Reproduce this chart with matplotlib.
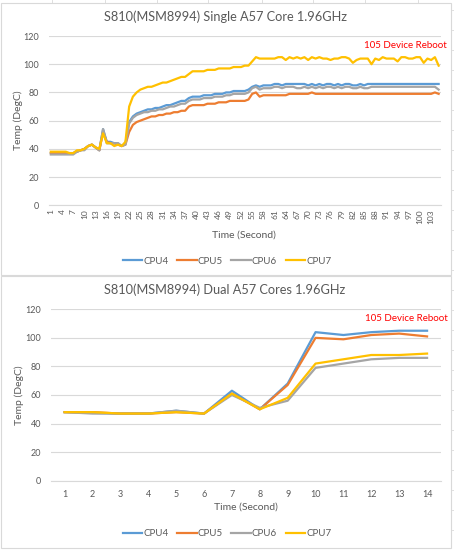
import numpy as np
import matplotlib.pyplot as plt
from matplotlib.patches import Rectangle
from matplotlib.lines import Line2D

plt.rcParams['font.family'] = ['Lato', 'DejaVu Sans']

# ---- single core run (105 samples) ----
cpu4_single = [37, 37, 37, 37, 37, 37, 37, 38, 39, 40, 42, 43, 41, 39, 54, 45, 45, 44, 44, 42,
               44, 59, 63, 65, 66, 67, 68, 68, 69, 69, 70, 71, 71, 72, 73, 74, 74, 76, 77, 77,
               77, 78, 78, 78, 79, 79, 79, 80, 80, 81, 81, 81, 81, 82, 84, 85, 84, 85, 85, 85,
               86, 86, 85, 86, 86, 86, 86, 86, 86, 85, 86, 85, 86, 85, 86, 86, 85, 86, 85, 86,
               86, 85, 85, 86, 85, 86, 86, 86, 86, 86, 86, 86, 86, 86, 86, 86, 86, 86, 86, 86,
               86, 86, 86, 86, 86]
cpu5_single = [37, 37, 37, 37, 37, 37, 37, 38, 39, 40, 42, 43, 41, 39, 52, 45, 44, 44, 43, 42,
               43, 52, 57, 59, 60, 61, 62, 63, 63, 64, 64, 65, 65, 66, 66, 67, 67, 70, 71, 71,
               71, 71, 72, 72, 72, 73, 73, 73, 74, 74, 74, 74, 74, 75, 79, 80, 77, 78, 78, 78,
               78, 78, 78, 78, 79, 79, 79, 79, 79, 79, 80, 79, 79, 79, 79, 79, 79, 79, 79, 79,
               79, 79, 79, 79, 79, 79, 79, 79, 79, 79, 79, 79, 79, 79, 79, 79, 79, 79, 79, 79,
               79, 79, 79, 80, 79]
cpu6_single = [36, 36, 36, 36, 36, 36, 36, 38, 39, 39, 42, 43, 41, 39, 54, 44, 44, 44, 44, 42,
               43, 58, 62, 64, 65, 66, 66, 67, 67, 68, 68, 69, 70, 70, 71, 72, 72, 74, 75, 75,
               75, 76, 76, 76, 77, 77, 77, 78, 78, 79, 79, 79, 79, 80, 83, 84, 82, 83, 83, 83,
               84, 84, 83, 84, 84, 84, 83, 83, 84, 83, 84, 83, 84, 83, 84, 84, 83, 84, 83, 84,
               84, 83, 83, 84, 83, 83, 84, 84, 84, 84, 84, 84, 84, 84, 84, 84, 84, 84, 84, 84,
               84, 84, 84, 84, 82]
cpu7_single = [38, 38, 38, 38, 38, 37, 37, 39, 39, 40, 42, 43, 41, 40, 51, 44, 44, 42, 43, 42,
               45, 70, 77, 80, 82, 83, 84, 84, 85, 86, 87, 87, 88, 89, 90, 91, 91, 93, 95, 95,
               95, 95, 96, 96, 96, 97, 97, 97, 97, 98, 98, 98, 99, 99, 102, 105, 104, 104, 104, 104,
               104, 105, 105, 103, 105, 104, 105, 104, 105, 103, 105, 104, 105, 104, 104, 103, 104, 104, 105, 105,
               104, 101, 103, 104, 104, 104, 100, 104, 103, 105, 104, 104, 104, 102, 105, 105, 104, 104, 105, 105,
               101, 104, 103, 105, 99]

# ---- dual core run (14 samples) ----
cpu4_dual = [48, 47.5, 47, 47, 49, 47, 63, 50, 68, 104, 102, 104, 105, 105]
cpu5_dual = [48, 48, 47, 47, 48, 47, 61, 50, 67, 100, 99, 102, 103, 101]
cpu6_dual = [48, 47, 47, 47, 49, 47, 60, 51, 56, 79, 82, 85, 86, 86]
cpu7_dual = [48, 48, 47, 47, 48, 47, 61, 50, 58, 82, 85, 88, 88, 89]

names = ['CPU4', 'CPU5', 'CPU6', 'CPU7']
colors = ['#5B9BD5', '#ED7D31', '#A5A5A5', '#FFC000']
txt = '#595959'
grid = '#D9D9D9'

W, H = 454, 550
fig = plt.figure(figsize=(W / 100, H / 100), dpi=100)


def px(x, y):
    return x / W, 1 - y / H


# excel cell lines peeking out behind the charts
for cx in [52, 105, 157, 208, 262, 313, 365, 418]:
    fig.add_artist(Line2D([cx / W] * 2, [1, 1 - 3 / H], color=grid, lw=0.6))
for cy in range(10, 550, 20):
    fig.add_artist(Line2D([452 / W, 1], [1 - cy / H] * 2, color=grid, lw=0.6))

# chart boxes
for top, bot in [(3, 275), (276, 548)]:
    fig.add_artist(Rectangle((1 / W, 1 - bot / H), 450 / W, (bot - top) / H,
                             fill=False, ec='#D9D9D9', lw=0.8))


def style(ax):
    ax.set_ylim(0, 120)
    ax.set_yticks(np.arange(0, 121, 20))
    ax.grid(axis='y', color=grid, lw=0.8)
    ax.set_axisbelow(True)
    for s in ['top', 'right', 'left']:
        ax.spines[s].set_visible(False)
    ax.spines['bottom'].set_color(grid)
    ax.tick_params(length=0, colors=txt, labelsize=6.5)
    ax.tick_params(axis='y', pad=7)


# top chart
x0, y0 = px(49, 205.3)
x1, y1 = px(440.5, 36)
ax1 = fig.add_axes([x0, y0, x1 - x0, y1 - y0])
t1 = np.arange(1, len(cpu4_single) + 1)
for vals, c in zip([cpu4_single, cpu5_single, cpu6_single, cpu7_single], colors):
    ax1.plot(t1, vals, color=c, lw=1.6)
style(ax1)
ax1.set_xlim(0.5, len(t1) + 0.5)
ax1.set_xticks(t1[::3])
ax1.set_xticklabels([str(v) for v in t1[::3]], rotation=90)
ax1.tick_params(axis='x', pad=3, labelsize=6)

# bottom chart
x0, y0 = px(50.7, 480.7)
x1, y1 = px(441, 309.3)
ax2 = fig.add_axes([x0, y0, x1 - x0, y1 - y0])
t2 = np.arange(1, len(cpu4_dual) + 1)
for vals, c in zip([cpu4_dual, cpu5_dual, cpu6_dual, cpu7_dual], colors):
    ax2.plot(t2, vals, color=c, lw=1.6)
style(ax2)
ax2.set_xlim(0.5, len(t2) + 0.5)
ax2.set_xticks(t2)
ax2.tick_params(axis='x', pad=7)

# texts
fig.text(*px(225, 17), 'S810(MSM8994) Single A57 Core 1.96GHz', ha='center', va='center',
         fontsize=9.2, color=txt)
fig.text(*px(225, 290), 'S810(MSM8994) Dual A57 Cores 1.96GHz', ha='center', va='center',
         fontsize=9.2, color=txt)
fig.text(*px(447, 45.5), '105 Device Reboot', ha='right', va='center', fontsize=7, color='#FF0000')
fig.text(*px(448, 318.5), '105 Device Reboot', ha='right', va='center', fontsize=7, color='#FF0000')
fig.text(*px(18, 120), 'Temp (DegC)', rotation=90, ha='center', va='center', fontsize=7.5, color=txt)
fig.text(*px(19, 395), 'Temp (DegC)', rotation=90, ha='center', va='center', fontsize=7.5, color=txt)
fig.text(*px(244, 235), 'Time (Second)', ha='center', va='center', fontsize=7.5, color=txt)
fig.text(*px(246, 507.5), 'Time (Second)', ha='center', va='center', fontsize=7.5, color=txt)

handles = [Line2D([], [], color=c, lw=1.6) for c in colors]
for ly in [261, 534]:
    fig.legend(handles, names, loc='center', bbox_to_anchor=px(227, ly), ncol=4, frameon=False,
               fontsize=7, labelcolor=txt, handlelength=2.0, handletextpad=0.1,
               columnspacing=0.9)

fig.savefig('out.png', dpi=100)
